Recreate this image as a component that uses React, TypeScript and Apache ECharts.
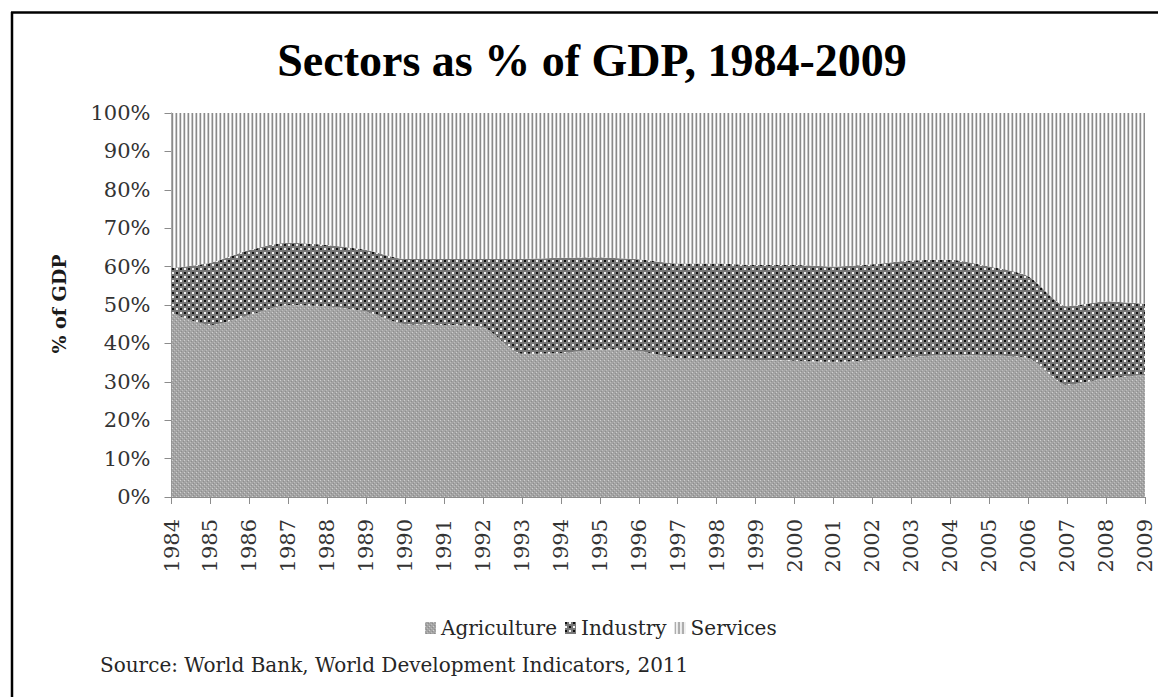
import React, { useEffect, useRef } from "react";
import * as echarts from "echarts";

const years = ["1984","1985","1986","1987","1988","1989","1990","1991","1992","1993","1994","1995","1996","1997","1998","1999","2000","2001","2002","2003","2004","2005","2006","2007","2008","2009"];
const agriculture = [47.9,44.8,47.4,50.0,49.6,48.3,45.0,44.8,44.2,37.3,37.5,38.4,38.0,36.1,35.9,35.7,35.5,35.2,35.7,36.5,37.0,36.8,36.2,29.2,30.9,31.8];
const industry = [11.7,16.2,16.9,16.2,16.0,16.0,17.0,17.2,17.8,24.7,24.8,24.0,23.9,24.7,24.9,24.7,24.9,24.8,24.9,25.1,24.8,23.2,21.3,20.5,20.0,18.5];
const services = [40.4,39.0,35.7,33.8,34.4,35.7,38.0,38.0,38.0,38.0,37.7,37.6,38.1,39.2,39.2,39.6,39.6,40.0,39.4,38.4,38.2,40.0,42.5,50.3,49.1,49.7];
const yTicks = [0, 10, 20, 30, 40, 50, 60, 70, 80, 90, 100];

function makeTile(w: number, h: number, draw: (ctx: CanvasRenderingContext2D) => void) {
  const c = document.createElement("canvas");
  c.width = w;
  c.height = h;
  const ctx = c.getContext("2d")!;
  draw(ctx);
  return { image: c, repeat: "repeat", imageWidth: w, imageHeight: h } as any;
}

export default function App() {
  const ref = useRef<HTMLDivElement>(null);
  useEffect(() => {
    if (!ref.current) return;
    const chart = echarts.init(ref.current, null, { renderer: "svg" });

    const agriPat = makeTile(4, 4, (ctx) => {
      ctx.fillStyle = "#a4a4a4";
      ctx.fillRect(0, 0, 4, 4);
      ctx.fillStyle = "#cfcfcf";
      ctx.fillRect(0, 0, 1, 1);
      ctx.fillStyle = "#bcbcbc";
      ctx.fillRect(2, 2, 1, 1);
      ctx.fillStyle = "#8e8e8e";
      ctx.fillRect(1, 3, 1, 1);
      ctx.fillRect(3, 1, 1, 1);
    });
    const indPat = makeTile(8, 8, (ctx) => {
      ctx.fillStyle = "#777777";
      ctx.fillRect(0, 0, 8, 8);
      ctx.fillStyle = "#101010";
      ctx.fillRect(0, 0, 2, 2);
      ctx.fillRect(4, 4, 2, 2);
      ctx.fillStyle = "#f6f6f6";
      ctx.fillRect(4, 0, 2, 2);
      ctx.fillRect(0, 4, 2, 2);
    });
    const servPat = makeTile(4, 1, (ctx) => {
      ctx.fillStyle = "#8a8a8a";
      ctx.fillRect(0, 0, 1, 1);
      ctx.fillStyle = "#e6e6e6";
      ctx.fillRect(1, 0, 1, 1);
      ctx.fillStyle = "#ffffff";
      ctx.fillRect(2, 0, 1, 1);
      ctx.fillStyle = "#c4c4c4";
      ctx.fillRect(3, 0, 1, 1);
    });

    const mk = (name: string, data: number[], pat: any) => ({
      name,
      type: "line",
      stack: "total",
      data,
      smooth: 0.25,
      showSymbol: false,
      symbol: "none",
      lineStyle: { width: 0 },
      itemStyle: { color: pat },
      areaStyle: { color: pat, opacity: 1 },
    });

    chart.setOption({
      animation: false,
      backgroundColor: "#ffffff",
      grid: { left: 171.5, right: 13, top: 113, bottom: 200, containLabel: false },
      legend: {
        left: 420,
        top: 613,
        icon: "rect",
        itemWidth: 11,
        itemHeight: 12,
        itemGap: 8,
        textStyle: { fontFamily: "DejaVu Serif", fontSize: 20, color: "#262626" },
        data: [
          { name: "Agriculture", itemStyle: { color: agriPat } },
          { name: "Industry", itemStyle: { color: indPat } },
          { name: "Services", itemStyle: { color: servPat } },
        ],
      },
      xAxis: {
        type: "category",
        data: years,
        boundaryGap: false,
        axisLine: { show: true, lineStyle: { color: "#8c8c8c", width: 1 } },
        axisTick: { show: true, length: 7, interval: 0, lineStyle: { color: "#8c8c8c" } },
        axisLabel: {
          interval: 0,
          rotate: 90,
          margin: 22,
          fontFamily: "DejaVu Serif",
          fontSize: 21,
          color: "#333333",
        },
        splitLine: { show: false },
      },
      yAxis: {
        type: "value",
        min: yTicks[0],
        max: yTicks[yTicks.length - 1],
        interval: 10,
        axisLine: { show: true, lineStyle: { color: "#8c8c8c", width: 1 } },
        axisTick: { show: true, length: 7, lineStyle: { color: "#8c8c8c" } },
        axisLabel: {
          formatter: "{value}%",
          margin: 21,
          fontFamily: "DejaVu Serif",
          fontSize: 21,
          color: "#333333",
        },
        splitLine: { show: false },
      },
      series: [
        mk("Agriculture", agriculture, agriPat),
        mk("Industry", industry, indPat),
        mk("Services", services, servPat),
      ],
      graphic: [
        {
          type: "text",
          x: 592,
          y: 60,
          style: {
            text: "Sectors as % of GDP, 1984-2009",
            font: "bold 46px 'Liberation Serif'",
            fill: "#000000",
            textAlign: "center",
            textVerticalAlign: "middle",
          },
        },
        {
          type: "text",
          x: 59,
          y: 304,
          rotation: Math.PI / 2,
          style: {
            text: "% of GDP",
            font: "bold 19px 'DejaVu Serif'",
            fill: "#1a1a1a",
            textAlign: "center",
            textVerticalAlign: "middle",
          },
        },
        {
          type: "text",
          x: 100,
          y: 665,
          style: {
            text: "Source: World Bank, World Development Indicators, 2011",
            font: "20px 'DejaVu Serif'",
            fill: "#262626",
            textAlign: "left",
            textVerticalAlign: "middle",
          },
        },
        {
          type: "line",
          shape: { x1: 12, y1: 12, x2: 12, y2: 697 },
          style: { stroke: "#000000", lineWidth: 2.5 },
        },
        {
          type: "line",
          shape: { x1: 11, y1: 12.5, x2: 1158, y2: 12.5 },
          style: { stroke: "#000000", lineWidth: 2.5 },
        },
      ],
    });
    return () => chart.dispose();
  }, []);
  return (
    <div
      ref={ref}
      style={{ position: "fixed", left: 0, top: 0, width: 1158, height: 697, background: "#fff" }}
    />
  );
}
